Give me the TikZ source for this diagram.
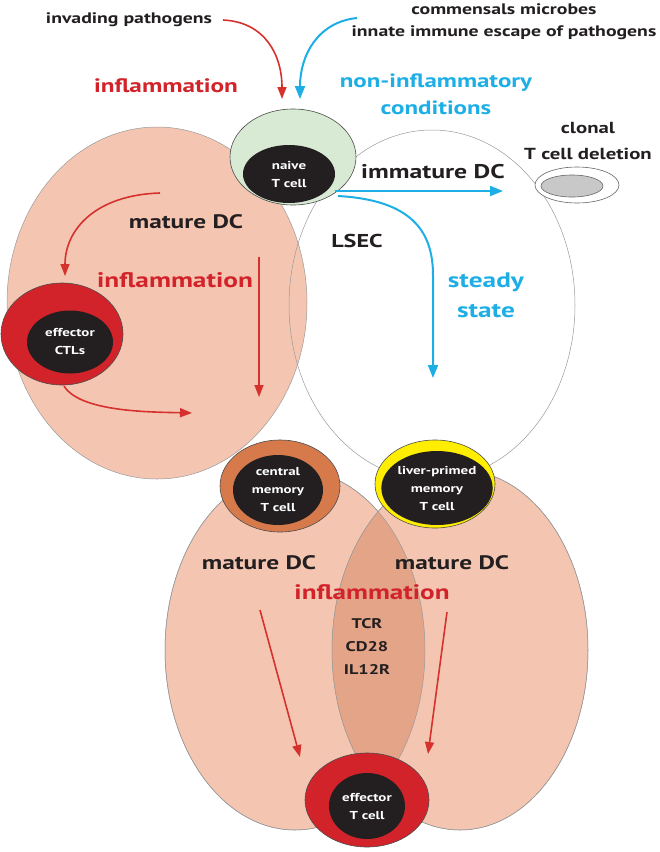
\documentclass[tikz,border=0pt]{standalone}
\usepackage{fontspec}
\setmainfont{PT Sans}[FakeStretch=1.3]
\usetikzlibrary{arrows.meta,shapes.geometric}
\definecolor{peach}{RGB}{244,198,178}
\definecolor{lens}{RGB}{228,164,136}
\definecolor{cred}{RGB}{210,35,42}
\definecolor{ared}{RGB}{214,50,45}
\definecolor{cblue}{RGB}{30,174,230}
\definecolor{cgreen}{RGB}{216,234,211}
\definecolor{corange}{RGB}{214,122,76}
\definecolor{cyel}{RGB}{255,238,0}
\definecolor{cblack}{RGB}{35,31,32}
\definecolor{cgray}{RGB}{200,200,200}
\newcommand{\fs}[2]{\bfseries\fontsize{#1}{#2}\selectfont}
\tikzset{
  cell/.style={ellipse,inner sep=0pt,draw=black!70,line width=0.6pt},
  core/.style={ellipse,inner sep=0pt,fill=cblack,draw=none,text=white,font=\fs{11.5}{18},align=center},
  big/.style={ellipse,inner sep=0pt,draw=black!40,line width=0.5pt},
  lbl/.style={font=\fs{19.5}{24},align=center,text=cblack},
  redarr/.style={draw=ared,line width=1.6pt,-{Triangle[length=12pt,width=9pt]}},
  bluearr/.style={draw=cblue,line width=2pt,-{Triangle[length=13pt,width=10pt]}},
}
\begin{document}
\begin{tikzpicture}[x=1pt,y=-1pt]
\useasboundingbox (0,0) rectangle (660,852);
% big ellipses
\node[big,fill=peach,minimum width=300pt,minimum height=352pt] (dctl) at (157,303) {};
\node[big,fill=peach,minimum width=260pt,minimum height=360pt] (dcbl) at (295,650) {};
\node[big,fill=peach,minimum width=256pt,minimum height=360pt] (dcbr) at (460,650) {};
\begin{scope}
  \clip (295,650) ellipse [x radius=130pt,y radius=180pt];
  \fill[lens] (460,650) ellipse [x radius=128pt,y radius=180pt];
\end{scope}
\draw[black!40,line width=0.5pt] (295,650) ellipse [x radius=130pt,y radius=180pt];
\draw[black!40,line width=0.5pt] (460,650) ellipse [x radius=128pt,y radius=180pt];
\node[big,minimum width=286pt,minimum height=350pt] (lsec) at (432,305) {};
% texts
\node[font=\fs{15.2}{17},text=cblack] (invading) at (129,20) {invading pathogens};
\node[font=\fs{15.2}{22},align=center,text=cblack] (commensal) at (504,22) {commensals microbes\\innate immune escape of pathogens};
\node[lbl,text=cred,font=\fs{19.4}{24}] (infl1) at (166,86) {inflammation};
\node[lbl,text=cblue,font=\fs{19.2}{27}] (noninf) at (436,94) {non-inflammatory\\conditions};
\node[font=\fs{16}{26},align=center,text=cblack] (clonaltxt) at (588,141) {clonal\\T cell deletion};
\node[lbl,font=\fs{19.8}{24}] (immature) at (433,172) {immature DC};
\node[lbl,font=\fs{18.6}{22}] (lsectxt) at (357,241) {LSEC};
\node[lbl,text=cblue,font=\fs{21}{30}] (steady) at (486,295) {steady\\state};
\node[lbl] (mature1) at (186,222) {mature DC};
\node[lbl,text=cred,font=\fs{21}{25}] (infl2) at (175,280) {inflammation};
\node[lbl] (mature2) at (259,563) {mature DC};
\node[lbl] (mature3) at (452,563) {mature DC};
\node[lbl,text=cred,font=\fs{20.9}{25}] (infl3) at (372,592) {inflammation};
\node[font=\fs{14}{23},align=center,text=cblack] (receptors) at (367,646) {TCR\\CD28\\IL12R};
% cells
\node[cell,fill=cgreen,minimum width=126pt,minimum height=96pt] (naiveout) at (293,157) {};
\node[core,minimum width=92pt,minimum height=58pt] (naive) at (289,174) {naive\\T cell};
\node[cell,fill=cred,minimum width=122pt,minimum height=102pt] (ctlout) at (62,334) {};
\node[core,minimum width=86pt,minimum height=63pt] (ctl) at (70,342) {effector\\CTLs};
\node[cell,fill=corange,minimum width=120pt,minimum height=92pt] (cmout) at (280,486) {};
\node[core,minimum width=90pt,minimum height=70pt] (cm) at (278,490) {central\\memory\\T cell};
\node[cell,fill=cyel,minimum width=120pt,minimum height=88pt] (lpout) at (435,484) {};
\node[core,minimum width=96pt,minimum height=74pt] (lp) at (437,488) {liver-primed\\memory\\T cell};
\node[cell,fill=cred,minimum width=124pt,minimum height=94pt] (etout) at (367,800) {};
\node[core,minimum width=76pt,minimum height=66pt] (et) at (367,806) {effector\\T cell};
\node[cell,fill=white,draw=black!60,minimum width=84pt,minimum height=36pt] (clonalout) at (577,185) {};
\node[cell,fill=cgray,draw=black!60,minimum width=62pt,minimum height=22pt] (clonal) at (572,186) {};
% arrow end points
\coordinate (r1s) at (223,20);
\coordinate (r1e) at (282,99);
\coordinate (b1s) at (357,18);
\coordinate (b1e) at (300,99);
\coordinate (b2s) at (335,191);
\coordinate (b2e) at (503,191);
\coordinate (b3s) at (338,196);
\coordinate (b3e) at (433,378);
\coordinate (r2s) at (160,193);
\coordinate (r2e) at (65,276);
\coordinate (r3s) at (259,257);
\coordinate (r3e) at (259,397);
\coordinate (r4s) at (64,386);
\coordinate (r4e) at (192,413);
\coordinate (r5s) at (260,610);
\coordinate (r5e) at (300,757);
\coordinate (r6s) at (447,612);
\coordinate (r6e) at (428,754);
% arrows
\draw[redarr] (r1s) .. controls (265,22) and (282,55) .. (r1e);
\draw[bluearr] (b1s) .. controls (318,22) and (300,55) .. (b1e);
\draw[bluearr] (b2s) -- (b2e);
\draw[bluearr] (b3s) .. controls (410,200) and (433,230) .. (433,275) -- (b3e);
\draw[redarr] (r2s) .. controls (95,195) and (65,230) .. (r2e);
\draw[redarr] (r3s) -- (r3e);
\draw[redarr] (r4s) .. controls (80,412) and (150,412) .. (r4e);
\draw[redarr] (r5s) -- (r5e);
\draw[redarr] (r6s) -- (r6e);
\end{tikzpicture}
\end{document}
